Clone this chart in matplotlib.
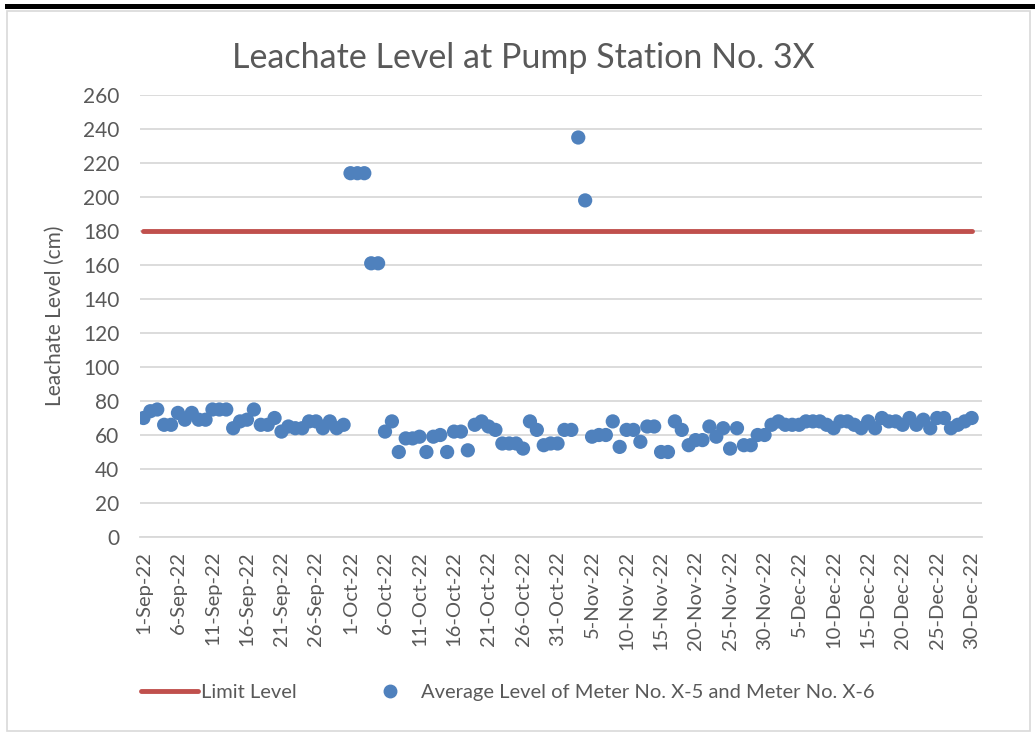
import matplotlib
matplotlib.use("Agg")
import matplotlib.pyplot as plt
import numpy as np
from matplotlib.patches import Rectangle
from matplotlib.lines import Line2D
import datetime as dt

# ---- data ----
start_date = dt.date(2022, 9, 1)
sep_levels = [70, 74, 75, 66, 66, 73, 69, 73, 69, 69, 75, 75, 75, 64, 68, 69, 75, 66, 66, 70,
              62, 65, 64, 64, 68, 68, 64, 68, 64, 66]
oct_levels = [214, 214, 214, 161, 161, 62, 68, 50, 58, 58, 59, 50, 59, 60, 50, 62, 62, 51, 66, 68,
              65, 63, 55, 55, 55, 52, 68, 63, 54, 55, 55]
nov_levels = [63, 63, 235, 198, 59, 60, 60, 68, 53, 63, 63, 56, 65, 65, 50, 50, 68, 63, 54, 57,
              57, 65, 59, 64, 52, 64, 54, 54, 60, 60]
dec_levels = [66, 68, 66, 66, 66, 68, 68, 68, 66, 64, 68, 68, 66, 64, 68, 64, 70, 68, 68, 66,
              70, 66, 69, 64, 70, 70, 64, 66, 68, 70]
limit_level = 180
y_ticks = list(range(0, 261, 20))
title = "Leachate Level at Pump Station No. 3X"
y_label = "Leachate Level (cm)"
limit_label = "Limit Level"
avg_label = "Average Level of Meter No. X-5 and Meter No. X-6"

levels = sep_levels + oct_levels + nov_levels + dec_levels
dates = [start_date + dt.timedelta(days=i) for i in range(len(levels))]
day_idx = np.arange(len(levels))
tick_idx = day_idx[::5]
tick_labels = [f"{d.day}-{d.strftime('%b')}-{d.strftime('%y')}" for d in dates[::5]]

# ---- style ----
FONT = ["Lato", "DejaVu Sans"]
plt.rcParams['font.family'] = FONT
TXT = "#595959"
GRID = "#d9d9d9"
BLUE = "#4f81bd"
RED = "#c0504d"

W, H = 1035, 736
fig = plt.figure(figsize=(W / 100, H / 100), dpi=100)

# chart frame
fig.patches.append(Rectangle((7 / W, 1 - 731 / H), (1030 - 7) / W, (731 - 11) / H,
                             transform=fig.transFigure, fill=False, edgecolor=GRID, lw=1.2))
fig.patches.append(Rectangle((5 / W, 1 - 9 / H), (W - 5) / W, 5 / H,
                             transform=fig.transFigure, facecolor="black", edgecolor="none"))

ax = fig.add_axes([140 / W, 1 - 537 / H, (982 - 140) / W, (537 - 95) / H])
ax.set_xlim(-0.5, len(levels) + 0.5)
ax.set_ylim(0, 260)
ax.set_yticks(y_ticks)
ax.grid(axis="y", color=GRID, lw=1.3)
ax.set_axisbelow(True)
for s in ["top", "right", "left"]:
    ax.spines[s].set_visible(False)
ax.spines["bottom"].set_color(GRID)
ax.spines["bottom"].set_linewidth(1.3)
ax.tick_params(axis="both", length=0, colors=TXT, labelsize=15)
ax.tick_params(axis="y", pad=15)
ax.tick_params(axis="x", pad=10, labelsize=14.5)
ax.set_xticks(tick_idx)
ax.set_xticklabels(tick_labels, rotation=90, va="top", ha="center")

ax.plot([day_idx[0], day_idx[-1]], [limit_level, limit_level], color=RED, lw=3.5,
        solid_capstyle="round", zorder=2)
ax.scatter(day_idx, levels, s=105, color=BLUE, edgecolors="none", zorder=3)

ax.set_ylabel(y_label, color=TXT, fontsize=15)
ax.yaxis.set_label_coords((65 - 140) / 842, 0.5)
fig.text(523 / W, 1 - 58 / H, title, ha="center", va="center", color=TXT, fontsize=24.5)

# legend
handles = [Line2D([], [], color=RED, lw=3.5, solid_capstyle="round"),
           Line2D([], [], color=BLUE, marker="o", ls="none", markersize=9)]
leg = fig.legend(handles, [limit_label, avg_label], loc="center", bbox_to_anchor=(508 / W, 1 - 692 / H),
                 ncol=2, frameon=False, fontsize=14.5, handlelength=2.8, handletextpad=0.15,
                 columnspacing=3.25)
for t in leg.get_texts():
    t.set_color(TXT)

fig.savefig("out.png", dpi=100)
